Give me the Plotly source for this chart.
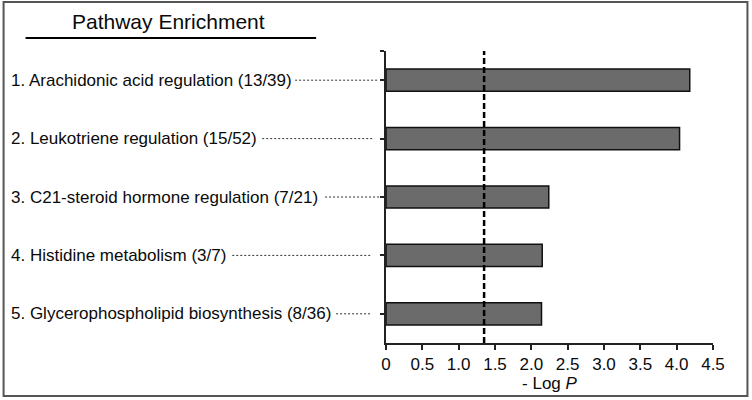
import plotly.graph_objects as go

categories = [
    "1. Arachidonic acid regulation (13/39)",
    "2. Leukotriene regulation (15/52)",
    "3. C21-steroid hormone regulation (7/21)",
    "4. Histidine metabolism (3/7)",
    "5. Glycerophospholipid biosynthesis (8/36)",
]
neg_log_p = [4.18, 4.04, 2.24, 2.15, 2.14]
threshold = 1.35
x_ticks = [0, 0.5, 1.0, 1.5, 2.0, 2.5, 3.0, 3.5, 4.0, 4.5]
x_tick_labels = ["0", "0.5", "1.0", "1.5", "2.0", "2.5", "3.0", "3.5", "4.0", "4.5"]
# leader line start/end (page px) for each label
leader_start_px = [295, 262, 325, 232, 336]
leader_end_px = [378, 374, 382, 372, 371]

W, H = 752, 400
L, R, T, B = 386, 38.5, 51, 57
plot_w = W - L - R
plot_h = H - T - B

def px_to_paper(px):
    return (px - L) / plot_w

def py_to_paper(py):
    return (H - B - py) / plot_h

ypos = list(range(len(categories)))

fig = go.Figure()
fig.add_trace(go.Bar(
    x=neg_log_p, y=ypos, orientation="h",
    width=0.38,
    marker=dict(color="#6b6b6b", line=dict(color="#111111", width=1.5)),
    hoverinfo="x",
))

shapes = []
annotations = []
font_fam = "Liberation Sans, Arial, sans-serif"
for i, (lab, xs, xe) in enumerate(zip(categories, leader_start_px, leader_end_px)):
    annotations.append(dict(
        text=lab, xref="paper", yref="y", x=px_to_paper(8), y=i,
        xanchor="left", yanchor="middle", showarrow=False,
        font=dict(family=font_fam, size=17, color="#0a0a0a"),
    ))
    shapes.append(dict(
        type="line", xref="paper", yref="y",
        x0=px_to_paper(xs), x1=px_to_paper(xe), y0=i, y1=i,
        line=dict(color="#333333", width=1, dash="2px,2px"),
    ))

# threshold dashed line
shapes.append(dict(
    type="line", xref="x", yref="y domain", x0=threshold, x1=threshold, y0=0, y1=1,
    line=dict(color="#000000", width=2.5, dash="6px,3px"),
))
# title underline
shapes.append(dict(
    type="line", xref="paper", yref="paper",
    x0=px_to_paper(25), x1=px_to_paper(316),
    y0=py_to_paper(38), y1=py_to_paper(38),
    line=dict(color="#000000", width=2),
))
# outer border
shapes.append(dict(
    type="rect", xref="paper", yref="paper",
    x0=px_to_paper(3), x1=px_to_paper(748),
    y0=py_to_paper(396), y1=py_to_paper(2),
    line=dict(color="#555555", width=2),
))

annotations.append(dict(
    text="Pathway Enrichment", xref="paper", yref="paper",
    x=px_to_paper(168), y=py_to_paper(22),
    xanchor="center", yanchor="middle", showarrow=False,
    font=dict(family=font_fam, size=21, color="#0a0a0a"),
))

fig.update_layout(
    width=W, height=H,
    margin=dict(l=L, r=R, t=T, b=B, pad=0),
    paper_bgcolor="white", plot_bgcolor="white",
    showlegend=False,
    shapes=shapes, annotations=annotations,
    font=dict(family=font_fam, color="#0a0a0a"),
    xaxis=dict(
        range=[0, 4.5], tickmode="array", tickvals=x_ticks, ticktext=x_tick_labels,
        showgrid=False, zeroline=False, showline=True, linecolor="#222222", linewidth=1.5,
        ticks="outside", ticklen=5, tickcolor="#222222", tickwidth=1.5,
        tickfont=dict(size=17, family=font_fam, color="#0a0a0a"),
        title=dict(text="- Log <i>P</i>", font=dict(size=17, family=font_fam, color="#0a0a0a"), standoff=1),
        fixedrange=True,
    ),
    yaxis=dict(
        range=[4.5, -0.5], tickmode="array", tickvals=[-0.5] + ypos,
        ticktext=[""] * (len(ypos) + 1),
        showgrid=False, zeroline=False, showline=True, linecolor="#222222", linewidth=1.5,
        ticks="outside", ticklen=4, tickcolor="#222222", tickwidth=1.5,
        fixedrange=True,
    ),
)

fig.write_html(
    "out.html",
    config={"displayModeBar": False},
    post_script="document.body.style.margin='0';document.body.style.overflow='hidden';",
)
